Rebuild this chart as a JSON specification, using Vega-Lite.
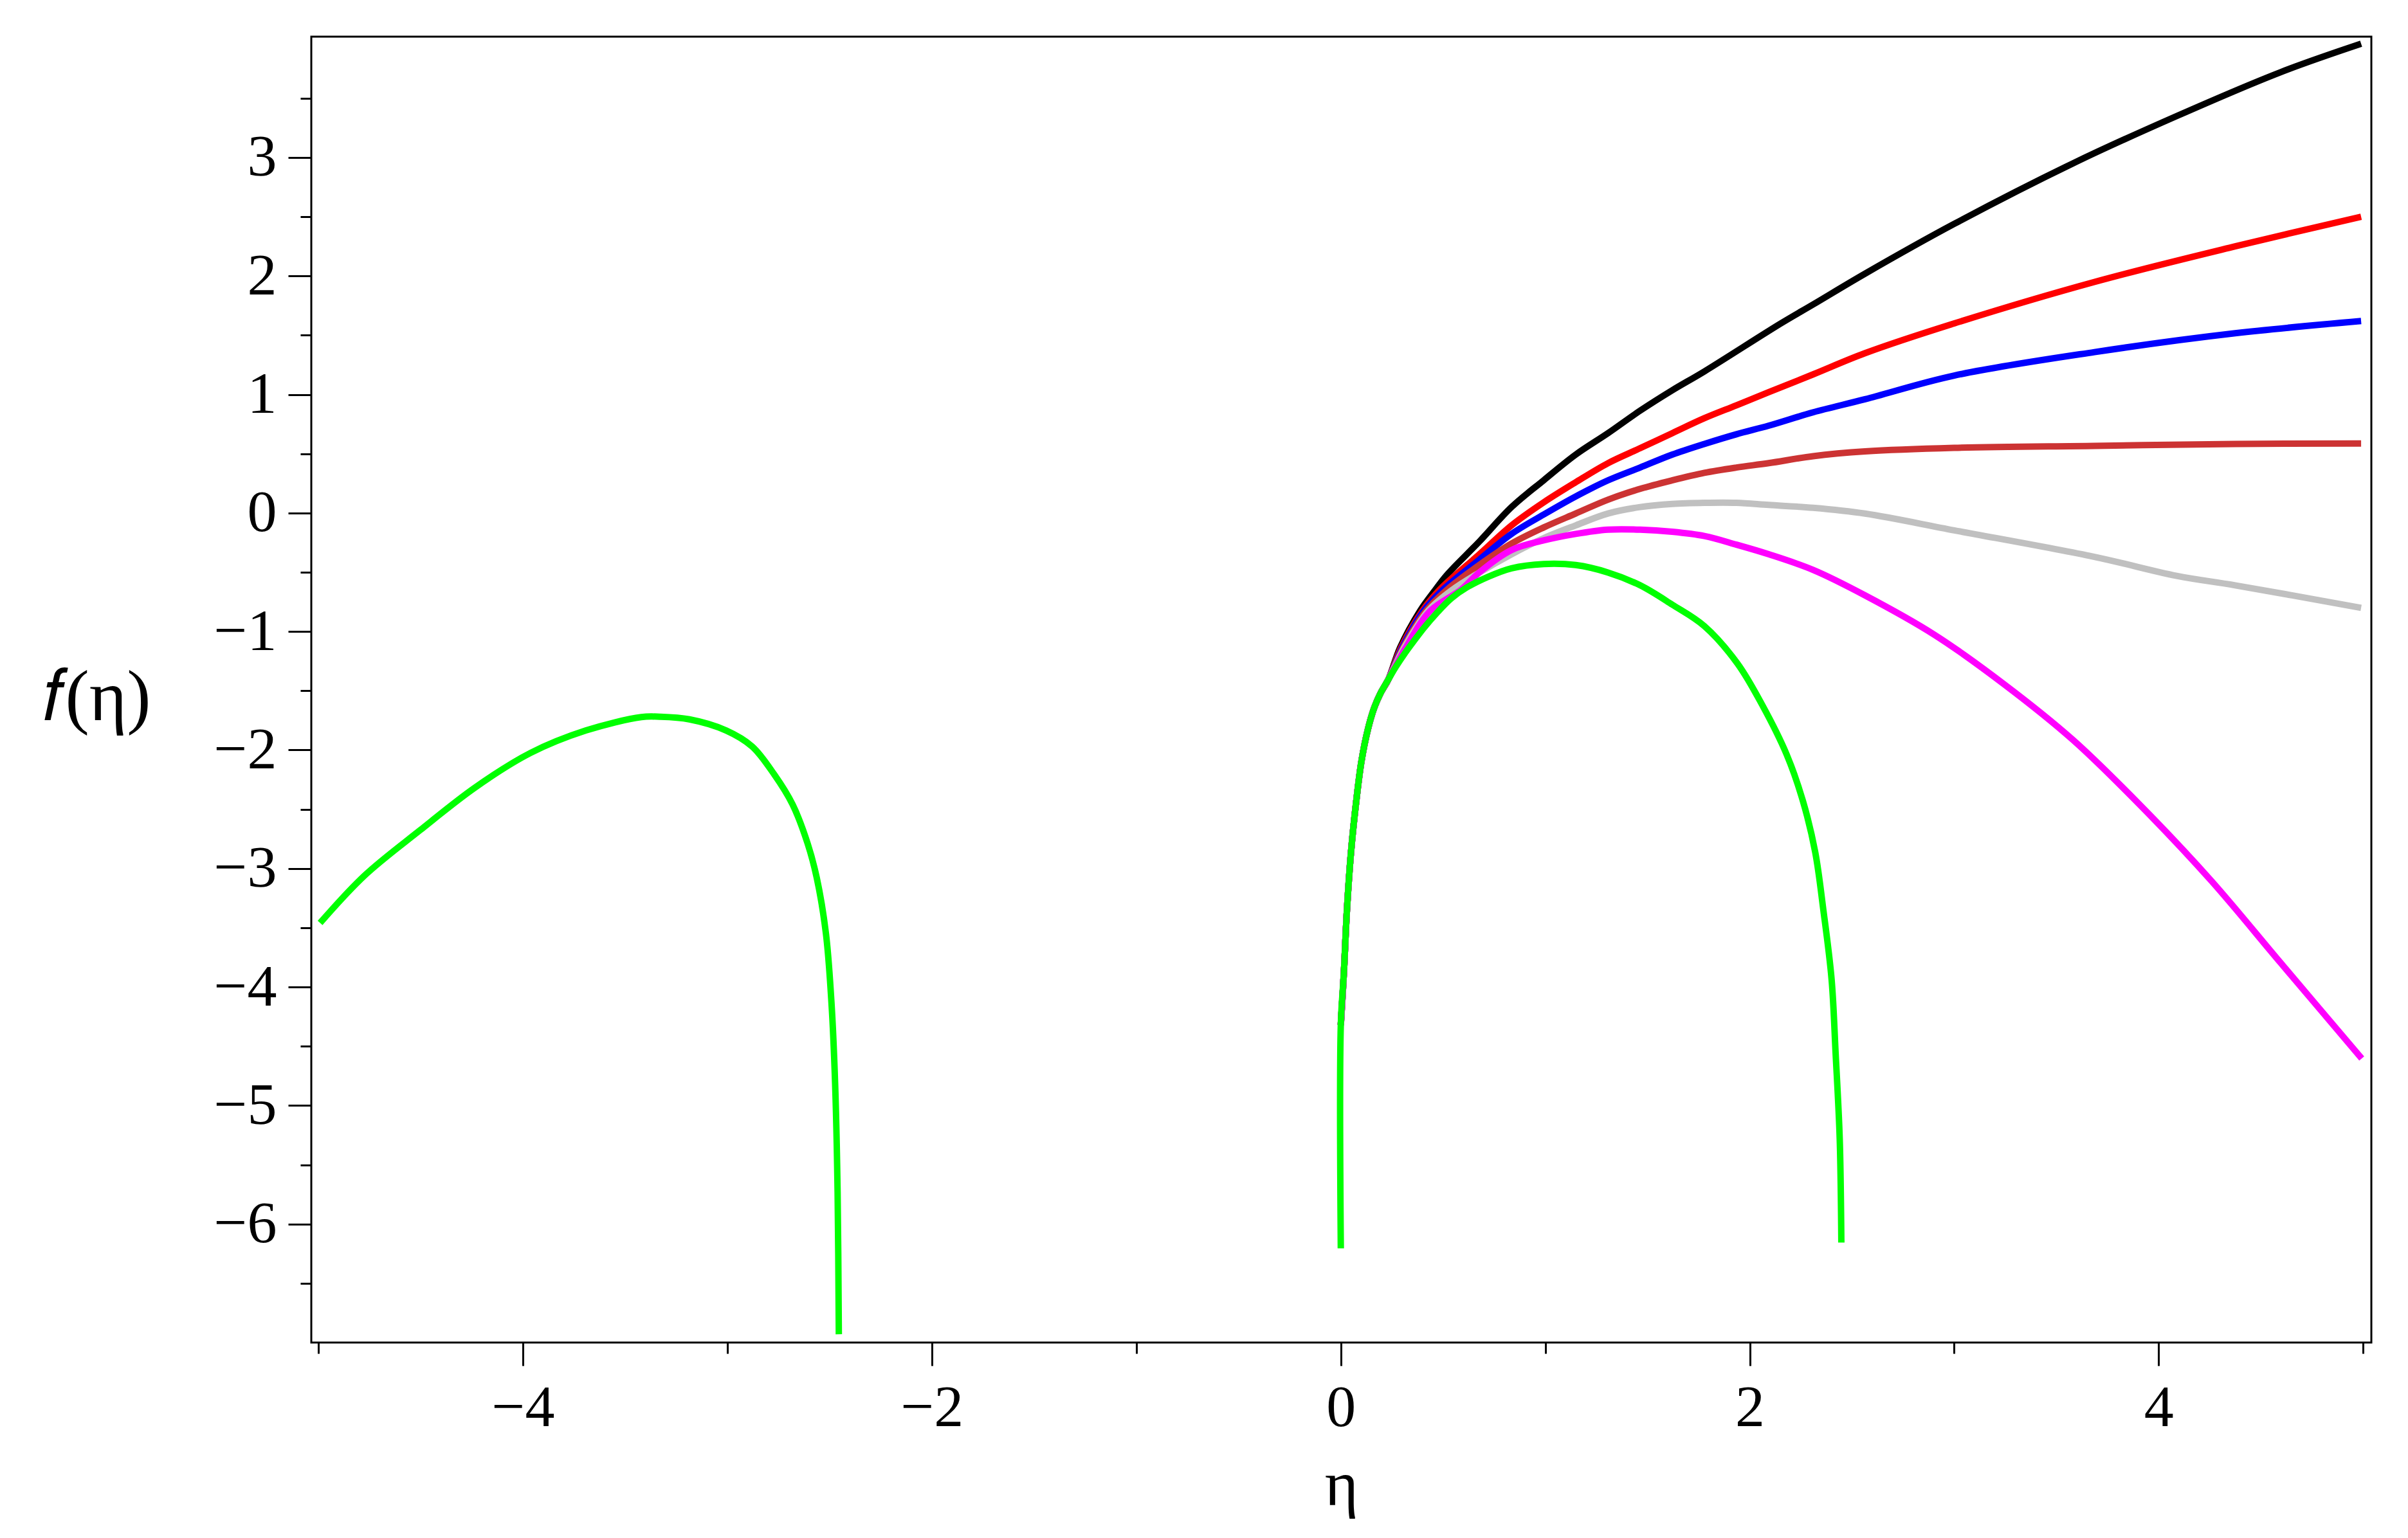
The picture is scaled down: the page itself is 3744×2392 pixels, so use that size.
{
  "$schema": "https://vega.github.io/schema/vega-lite/v6.json",
  "width": 3203,
  "height": 2031,
  "autosize": "none",
  "padding": {"left": 484, "top": 57, "right": 57, "bottom": 304},
  "background": "white",
  "config": {"view": {"stroke": "black", "strokeWidth": 3}, "font": "Liberation Serif"},
  "datasets": {
    "curves": [
      {"s":"black","x":0,"y":-4.32},{"s":"black","x":0.015,"y":-3.88},{"s":"black","x":0.03,"y":-3.35},{"s":"black","x":0.05,"y":-2.86},{"s":"black","x":0.075,"y":-2.44},{"s":"black","x":0.101,"y":-2.094},{"s":"black","x":0.133,"y":-1.822},{"s":"black","x":0.164,"y":-1.641},{"s":"black","x":0.196,"y":-1.515},{"s":"black","x":0.232,"y":-1.406},
      {"s":"black","x":0.29,"y":-1.135},{"s":"black","x":0.387,"y":-0.827},{"s":"black","x":0.463,"y":-0.646},{"s":"black","x":0.52,"y":-0.52},{"s":"black","x":0.678,"y":-0.24},{"s":"black","x":0.835,"y":0.05},{"s":"black","x":0.992,"y":0.276},{"s":"black","x":1.149,"y":0.493},{"s":"black","x":1.307,"y":0.674},{"s":"black","x":1.464,"y":0.864},{"s":"black","x":1.621,"y":1.036},{"s":"black","x":1.778,"y":1.195},{"s":"black","x":2.152,"y":1.6},{"s":"black","x":2.31,"y":1.76},{"s":"black","x":2.564,"y":2.02},{"s":"black","x":3.0,"y":2.44},{"s":"black","x":3.58,"y":2.95},{"s":"black","x":4.088,"y":3.35},{"s":"black","x":4.596,"y":3.72},{"s":"black","x":4.99,"y":3.96},

      {"s":"red","x":0,"y":-4.32},{"s":"red","x":0.015,"y":-3.88},{"s":"red","x":0.03,"y":-3.35},{"s":"red","x":0.05,"y":-2.86},{"s":"red","x":0.075,"y":-2.44},{"s":"red","x":0.101,"y":-2.094},{"s":"red","x":0.133,"y":-1.822},{"s":"red","x":0.164,"y":-1.641},{"s":"red","x":0.196,"y":-1.515},{"s":"red","x":0.232,"y":-1.406},
      {"s":"red","x":0.295,"y":-1.135},{"s":"red","x":0.398,"y":-0.827},{"s":"red","x":0.484,"y":-0.646},{"s":"red","x":0.678,"y":-0.348},{"s":"red","x":0.835,"y":-0.104},{"s":"red","x":0.992,"y":0.09},{"s":"red","x":1.149,"y":0.26},{"s":"red","x":1.307,"y":0.421},{"s":"red","x":1.464,"y":0.547},{"s":"red","x":1.621,"y":0.674},{"s":"red","x":1.778,"y":0.8},{"s":"red","x":1.935,"y":0.909},{"s":"red","x":2.093,"y":1.02},{"s":"red","x":2.31,"y":1.17},{"s":"red","x":2.564,"y":1.349},{"s":"red","x":3.0,"y":1.6},{"s":"red","x":3.686,"y":1.95},{"s":"red","x":4.374,"y":2.25},{"s":"red","x":4.99,"y":2.5},

      {"s":"blue","x":0,"y":-4.32},{"s":"blue","x":0.015,"y":-3.88},{"s":"blue","x":0.03,"y":-3.35},{"s":"blue","x":0.05,"y":-2.86},{"s":"blue","x":0.075,"y":-2.44},{"s":"blue","x":0.101,"y":-2.094},{"s":"blue","x":0.133,"y":-1.822},{"s":"blue","x":0.164,"y":-1.641},{"s":"blue","x":0.196,"y":-1.515},{"s":"blue","x":0.232,"y":-1.406},
      {"s":"blue","x":0.3,"y":-1.135},{"s":"blue","x":0.405,"y":-0.827},{"s":"blue","x":0.5,"y":-0.646},{"s":"blue","x":0.678,"y":-0.393},{"s":"blue","x":0.835,"y":-0.176},{"s":"blue","x":0.992,"y":-0.013},{"s":"blue","x":1.149,"y":0.14},{"s":"blue","x":1.307,"y":0.276},{"s":"blue","x":1.464,"y":0.384},{"s":"blue","x":1.621,"y":0.493},{"s":"blue","x":1.778,"y":0.583},{"s":"blue","x":1.935,"y":0.665},{"s":"blue","x":2.093,"y":0.737},{"s":"blue","x":2.31,"y":0.85},{"s":"blue","x":2.564,"y":0.96},{"s":"blue","x":3.0,"y":1.16},{"s":"blue","x":3.686,"y":1.358},{"s":"blue","x":4.374,"y":1.517},{"s":"blue","x":4.99,"y":1.62},

      {"s":"brown","x":0,"y":-4.32},{"s":"brown","x":0.015,"y":-3.88},{"s":"brown","x":0.03,"y":-3.35},{"s":"brown","x":0.05,"y":-2.86},{"s":"brown","x":0.075,"y":-2.44},{"s":"brown","x":0.101,"y":-2.094},{"s":"brown","x":0.133,"y":-1.822},{"s":"brown","x":0.164,"y":-1.641},{"s":"brown","x":0.196,"y":-1.515},{"s":"brown","x":0.232,"y":-1.406},
      {"s":"brown","x":0.305,"y":-1.135},{"s":"brown","x":0.416,"y":-0.827},{"s":"brown","x":0.52,"y":-0.646},{"s":"brown","x":0.678,"y":-0.438},{"s":"brown","x":0.835,"y":-0.258},{"s":"brown","x":0.992,"y":-0.122},{"s":"brown","x":1.149,"y":-0.004},{"s":"brown","x":1.307,"y":0.113},{"s":"brown","x":1.464,"y":0.204},{"s":"brown","x":1.621,"y":0.276},{"s":"brown","x":1.778,"y":0.339},{"s":"brown","x":1.935,"y":0.384},{"s":"brown","x":2.093,"y":0.421},{"s":"brown","x":2.31,"y":0.48},{"s":"brown","x":2.564,"y":0.52},{"s":"brown","x":3.0,"y":0.55},{"s":"brown","x":3.686,"y":0.567},{"s":"brown","x":4.374,"y":0.583},{"s":"brown","x":4.99,"y":0.587},

      {"s":"gray","x":0,"y":-4.32},{"s":"gray","x":0.015,"y":-3.88},{"s":"gray","x":0.03,"y":-3.35},{"s":"gray","x":0.05,"y":-2.86},{"s":"gray","x":0.075,"y":-2.44},{"s":"gray","x":0.101,"y":-2.094},{"s":"gray","x":0.133,"y":-1.822},{"s":"gray","x":0.164,"y":-1.641},{"s":"gray","x":0.196,"y":-1.515},{"s":"gray","x":0.232,"y":-1.406},
      {"s":"gray","x":0.31,"y":-1.135},{"s":"gray","x":0.426,"y":-0.827},{"s":"gray","x":0.547,"y":-0.646},{"s":"gray","x":0.678,"y":-0.502},{"s":"gray","x":0.835,"y":-0.348},{"s":"gray","x":0.992,"y":-0.212},{"s":"gray","x":1.149,"y":-0.104},{"s":"gray","x":1.307,"y":-0.004},{"s":"gray","x":1.464,"y":0.05},{"s":"gray","x":1.621,"y":0.077},{"s":"gray","x":1.778,"y":0.086},{"s":"gray","x":1.935,"y":0.086},{"s":"gray","x":2.093,"y":0.068},{"s":"gray","x":2.31,"y":0.044},{"s":"gray","x":2.564,"y":-0.005},{"s":"gray","x":3.0,"y":-0.146},{"s":"gray","x":3.686,"y":-0.37},{"s":"gray","x":4.088,"y":-0.53},{"s":"gray","x":4.374,"y":-0.61},{"s":"gray","x":4.99,"y":-0.8},

      {"s":"magenta","x":0,"y":-4.32},{"s":"magenta","x":0.015,"y":-3.88},{"s":"magenta","x":0.03,"y":-3.35},{"s":"magenta","x":0.05,"y":-2.86},{"s":"magenta","x":0.075,"y":-2.44},{"s":"magenta","x":0.101,"y":-2.094},{"s":"magenta","x":0.133,"y":-1.822},{"s":"magenta","x":0.164,"y":-1.641},{"s":"magenta","x":0.196,"y":-1.515},{"s":"magenta","x":0.232,"y":-1.406},
      {"s":"magenta","x":0.318,"y":-1.135},{"s":"magenta","x":0.437,"y":-0.827},{"s":"magenta","x":0.589,"y":-0.646},{"s":"magenta","x":0.678,"y":-0.5},{"s":"magenta","x":0.835,"y":-0.312},{"s":"magenta","x":0.992,"y":-0.231},{"s":"magenta","x":1.149,"y":-0.176},{"s":"magenta","x":1.307,"y":-0.14},{"s":"magenta","x":1.464,"y":-0.14},{"s":"magenta","x":1.621,"y":-0.158},{"s":"magenta","x":1.778,"y":-0.194},{"s":"magenta","x":1.935,"y":-0.267},{"s":"magenta","x":2.093,"y":-0.348},{"s":"magenta","x":2.31,"y":-0.48},{"s":"magenta","x":2.564,"y":-0.695},{"s":"magenta","x":2.903,"y":-1.027},{"s":"magenta","x":3.242,"y":-1.442},{"s":"magenta","x":3.58,"y":-1.913},{"s":"magenta","x":3.918,"y":-2.48},{"s":"magenta","x":4.257,"y":-3.103},{"s":"magenta","x":4.596,"y":-3.795},{"s":"magenta","x":4.993,"y":-4.603},

      {"s":"greenL","x":-4.992,"y":-3.459},{"s":"greenL","x":-4.775,"y":-3.06},{"s":"greenL","x":-4.504,"y":-2.678},{"s":"greenL","x":-4.233,"y":-2.315},{"s":"greenL","x":-3.962,"y":-2.024},{"s":"greenL","x":-3.692,"y":-1.835},{"s":"greenL","x":-3.421,"y":-1.722},{"s":"greenL","x":-3.33,"y":-1.719},{"s":"greenL","x":-3.186,"y":-1.741},{"s":"greenL","x":-3.006,"y":-1.835},{"s":"greenL","x":-2.879,"y":-1.97},{"s":"greenL","x":-2.771,"y":-2.206},{"s":"greenL","x":-2.681,"y":-2.46},{"s":"greenL","x":-2.608,"y":-2.787},{"s":"greenL","x":-2.563,"y":-3.078},{"s":"greenL","x":-2.518,"y":-3.55},{"s":"greenL","x":-2.491,"y":-4.132},{"s":"greenL","x":-2.473,"y":-4.822},{"s":"greenL","x":-2.461,"y":-5.73},{"s":"greenL","x":-2.455,"y":-6.93},

      {"s":"greenR","x":0,"y":-6.205},{"s":"greenR","x":0,"y":-4.32},{"s":"greenR","x":0.015,"y":-3.88},{"s":"greenR","x":0.03,"y":-3.35},{"s":"greenR","x":0.05,"y":-2.86},{"s":"greenR","x":0.075,"y":-2.44},{"s":"greenR","x":0.101,"y":-2.094},{"s":"greenR","x":0.133,"y":-1.822},{"s":"greenR","x":0.164,"y":-1.641},{"s":"greenR","x":0.196,"y":-1.515},{"s":"greenR","x":0.232,"y":-1.406},{"s":"greenR","x":0.269,"y":-1.298},{"s":"greenR","x":0.311,"y":-1.189},{"s":"greenR","x":0.353,"y":-1.09},{"s":"greenR","x":0.405,"y":-0.972},{"s":"greenR","x":0.468,"y":-0.846},{"s":"greenR","x":0.541,"y":-0.719},{"s":"greenR","x":0.615,"y":-0.629},{"s":"greenR","x":0.72,"y":-0.538},{"s":"greenR","x":0.835,"y":-0.466},{"s":"greenR","x":0.992,"y":-0.43},{"s":"greenR","x":1.149,"y":-0.439},{"s":"greenR","x":1.307,"y":-0.502},{"s":"greenR","x":1.464,"y":-0.61},{"s":"greenR","x":1.621,"y":-0.773},{"s":"greenR","x":1.778,"y":-0.954},{"s":"greenR","x":1.94,"y":-1.27},{"s":"greenR","x":2.061,"y":-1.62},{"s":"greenR","x":2.181,"y":-2.04},{"s":"greenR","x":2.26,"y":-2.43},{"s":"greenR","x":2.32,"y":-2.86},{"s":"greenR","x":2.36,"y":-3.35},{"s":"greenR","x":2.4,"y":-3.93},{"s":"greenR","x":2.42,"y":-4.56},{"s":"greenR","x":2.44,"y":-5.28},{"s":"greenR","x":2.448,"y":-6.156}
    ]
  },
  "data": {"name": "curves"},
  "layer": [
    {
      "mark": {"type": "line", "strokeWidth": 10, "clip": true, "interpolate": "catmull-rom"},
      "encoding": {
        "x": {
          "field": "x", "type": "quantitative",
          "scale": {"domain": [-5.035, 5.04], "nice": false, "zero": false},
          "axis": {
            "orient": "bottom",
            "values": [-4, -2, 0, 2, 4],
            "format": "d",
            "tickSize": 36, "tickWidth": 3, "tickColor": "black",
            "domain": false, "grid": false,
            "labelFont": "Liberation Serif", "labelFontSize": 92, "labelColor": "black",
            "labelPadding": 20, "labelFlush": false, "labelOverlap": false,
            "title": "η",
            "titleFont": "Liberation Serif", "titleFontSize": 100, "titleFontWeight": "normal", "titleColor": "black",
            "titlePadding": 26
          }
        },
        "y": {
          "field": "y", "type": "quantitative",
          "scale": {"domain": [-7.0, 4.02], "nice": false, "zero": false},
          "axis": {
            "orient": "left",
            "values": [-6, -5, -4, -3, -2, -1, 0, 1, 2, 3],
            "format": "d",
            "tickSize": 36, "tickWidth": 3, "tickColor": "black",
            "domain": false, "grid": false,
            "labelFont": "Liberation Serif", "labelFontSize": 92, "labelColor": "black",
            "labelPadding": 18, "labelFlush": false, "labelOverlap": false,
            "title": "𝑓(η)",
            "titleFont": "Liberation Serif", "titleFontSize": 112, "titleFontWeight": "normal", "titleColor": "black",
            "titleAngle": 0, "titleAlign": "center", "titleBaseline": "middle",
            "titleX": -334, "titleY": 1028
          }
        },
        "color": {
          "field": "s", "type": "nominal",
          "scale": {
            "domain": ["black", "red", "blue", "brown", "gray", "magenta", "greenL", "greenR"],
            "range": ["#000000", "#FF0000", "#0000FF", "#CC3333", "#C0C0C0", "#FF00FF", "#00FF00", "#00FF00"]
          },
          "legend": null
        },
        "order": {"value": null}
      }
    },
    {
      "mark": {"type": "line", "opacity": 0, "strokeWidth": 1},
      "encoding": {
        "x": {
          "field": "x", "type": "quantitative",
          "scale": {"domain": [-5.035, 5.04], "nice": false, "zero": false},
          "axis": {
            "orient": "bottom",
            "values": [-5, -3, -1, 1, 3, 5],
            "labels": false,
            "tickSize": 17, "tickWidth": 3, "tickColor": "black",
            "domain": false, "grid": false,
            "title": null
          }
        },
        "y": {
          "field": "y", "type": "quantitative",
          "scale": {"domain": [-7.0, 4.02], "nice": false, "zero": false},
          "axis": {
            "orient": "left",
            "values": [-6.5, -5.5, -4.5, -3.5, -2.5, -1.5, -0.5, 0.5, 1.5, 2.5, 3.5],
            "labels": false,
            "tickSize": 17, "tickWidth": 3, "tickColor": "black",
            "domain": false, "grid": false,
            "title": null
          }
        },
        "detail": {"field": "s", "type": "nominal"},
        "order": {"value": null}
      }
    }
  ],
  "resolve": {"axis": {"x": "independent", "y": "independent"}}
}
